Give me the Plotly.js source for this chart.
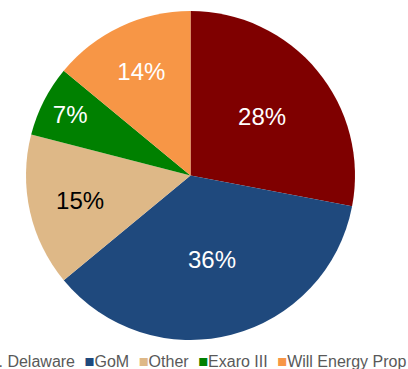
<!DOCTYPE html>
<html>
<head>
<meta charset="utf-8">
<script src="https://cdn.plot.ly/plotly-3.0.1.min.js"></script>
<style>
  html, body { margin: 0; padding: 0; background: #ffffff; overflow: hidden; }
  #chart { width: 408px; height: 369px; }
</style>
</head>
<body>
<div id="chart"></div>
<script>
// Data
const labels = ["N. Delaware", "GoM", "Other", "Exaro III", "Will Energy Prop"];
const values = [28, 36, 15, 7, 14];
const colors = ["#7F0000", "#1F497D", "#DEB887", "#008000", "#F79646"];
const textColors = ["#FFFFFF", "#FFFFFF", "#000000", "#FFFFFF", "#FFFFFF"];

const FONT = "Liberation Sans, Arial, sans-serif";

const pie = {
  type: "pie",
  labels: labels,
  values: values,
  sort: false,
  direction: "clockwise",
  rotation: 0,
  marker: { colors: colors, line: { width: 0 } },
  textinfo: "percent",
  texttemplate: "%{percent:.0%}",
  textposition: "inside",
  insidetextorientation: "horizontal",
  textfont: { family: FONT, size: 24, color: textColors },
  hoverinfo: "label+percent",
  domain: { x: [26 / 408, 355 / 408], y: [1 - 340 / 369, 1 - 11 / 369] },
  showlegend: false
};

// Legend built as a single line of text from the label/colour arrays
const legendText = labels.map((l, i) =>
  '<span style="color:' + colors[i] + ';font-size:16.5px">\u25A0</span>' + l
).join('<span style="font-size:19px">\u2002</span>');

const layout = {
  width: 408,
  height: 369,
  margin: { l: 0, r: 0, t: 0, b: 0 },
  paper_bgcolor: "#ffffff",
  plot_bgcolor: "#ffffff",
  showlegend: false,
  font: { family: FONT },
  annotations: [{
    xref: "paper", yref: "paper",
    x: 1, y: 0,
    xanchor: "right", yanchor: "bottom",
    yshift: -4,
    showarrow: false,
    text: legendText,
    font: { family: FONT, size: 16, color: "#595959" }
  }]
};

Plotly.newPlot("chart", [pie], layout, { displayModeBar: false, staticPlot: true });
</script>
</body>
</html>
